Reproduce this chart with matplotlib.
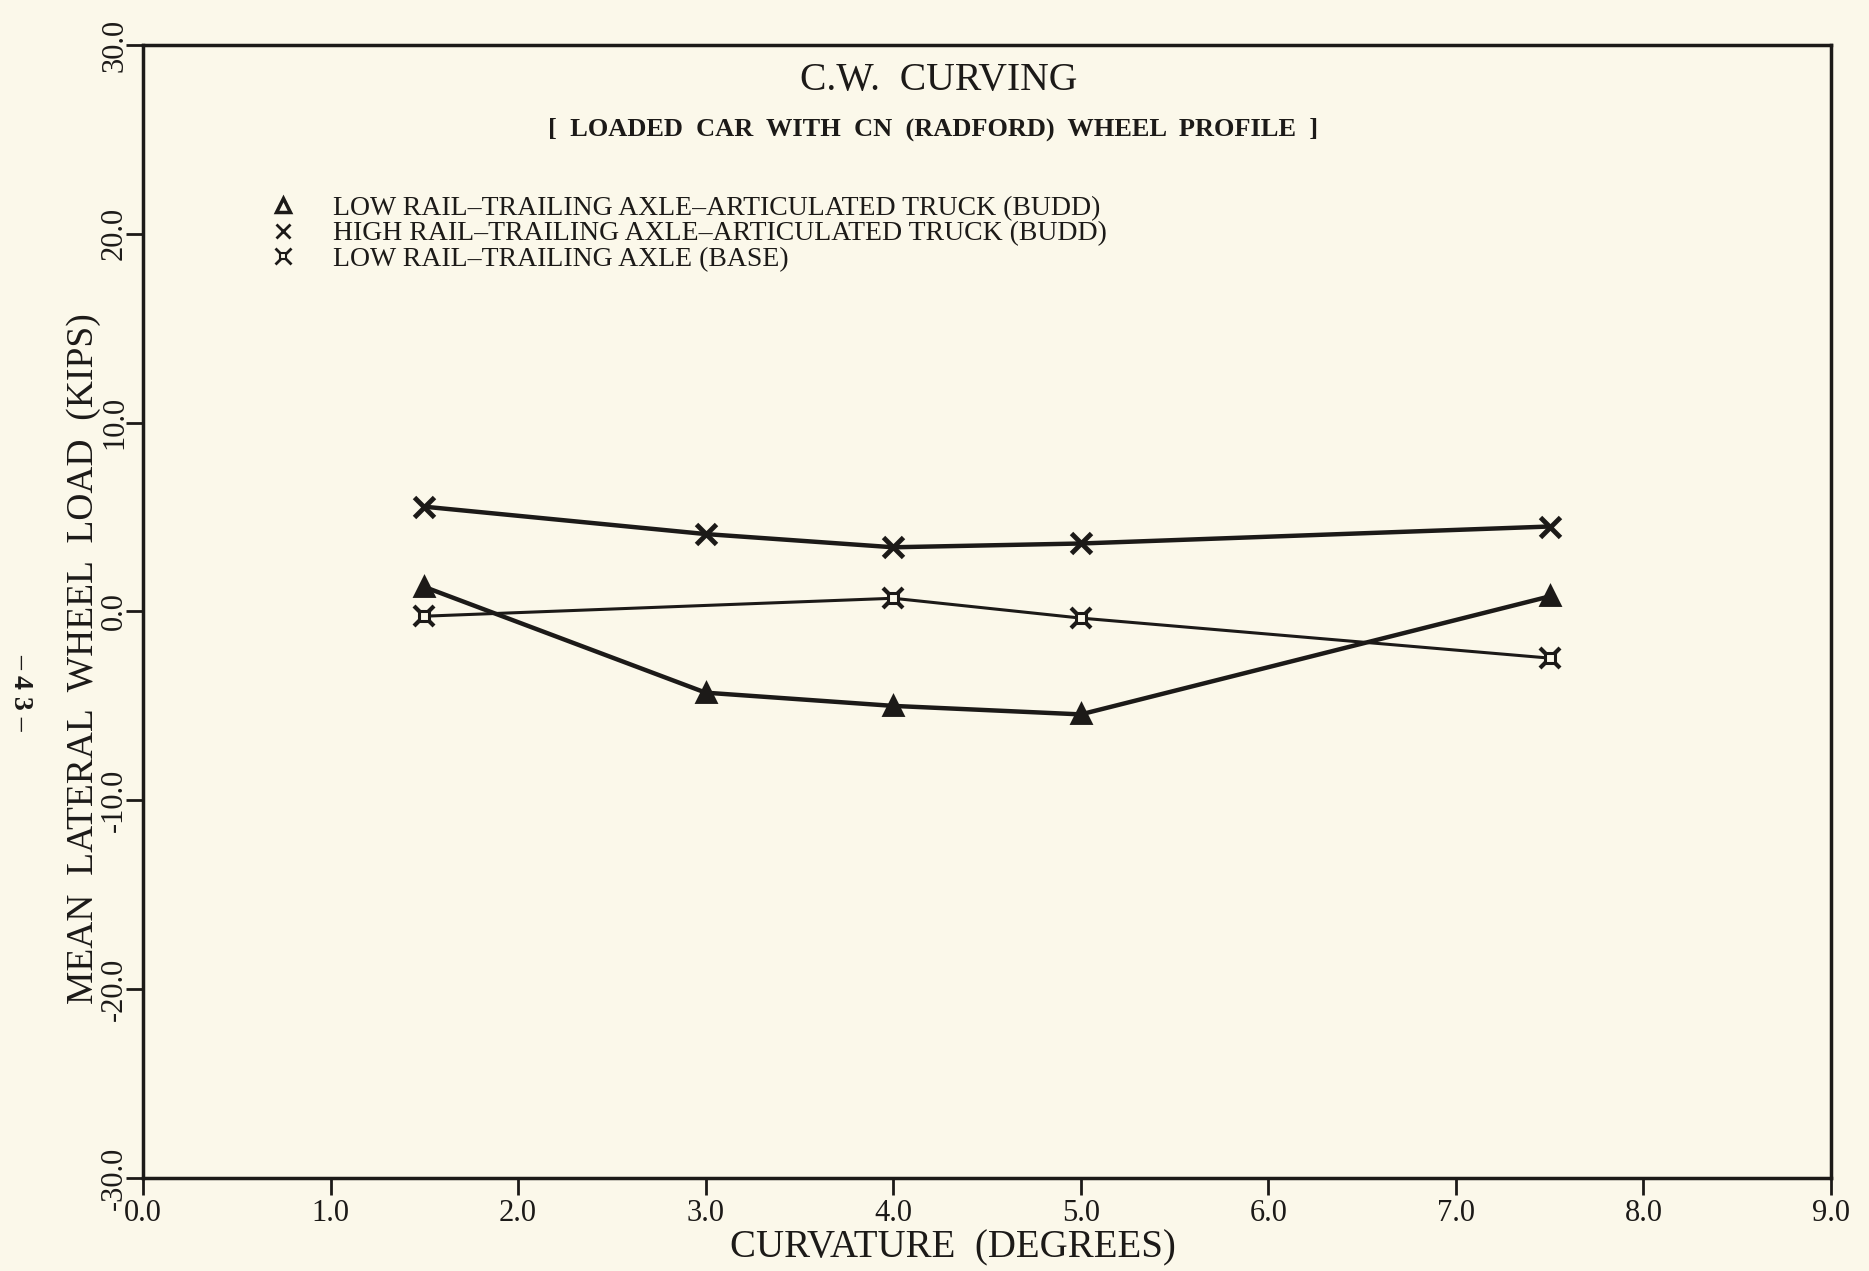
import matplotlib
matplotlib.use("Agg")
import matplotlib.pyplot as plt
from matplotlib.lines import Line2D
from matplotlib.legend_handler import HandlerTuple

curvature = [1.5, 3.0, 4.0, 5.0, 7.5]
low_rail_budd = [1.3, -4.3, -5.0, -5.45, 0.8]
high_rail_budd = [5.55, 4.1, 3.4, 3.6, 4.5]
low_rail_base = [-0.25, 0.7, -0.35, -2.47]
base_curvature = [1.5, 4.0, 5.0, 7.5]

labels = ["LOW RAIL\u2013TRAILING AXLE\u2013ARTICULATED TRUCK (BUDD)",
          "HIGH RAIL\u2013TRAILING AXLE\u2013ARTICULATED TRUCK (BUDD)",
          "LOW RAIL\u2013TRAILING AXLE (BASE)"]
xticks = [0, 1, 2, 3, 4, 5, 6, 7, 8, 9]
yticks = [-30, -20, -10, 0, 10, 20, 30]

bg = "#fbf8ea"
ink = "#1c1a18"
serif = ["Liberation Serif", "DejaVu Serif"]
plt.rcParams["font.family"] = serif

fig = plt.figure(figsize=(18.69, 12.71), dpi=100, facecolor=bg)
ax = fig.add_axes([0.0765, 0.0732, 0.9032, 0.8914], facecolor=bg)

ax.plot(curvature, high_rail_budd, color=ink, lw=3.2, marker="x", ms=15, mew=3.5, zorder=3)
ax.plot(curvature, low_rail_budd, color=ink, lw=3.2, marker="^", ms=11, mew=3.5,
        mfc=ink, mec=ink, zorder=3)
ax.plot(base_curvature, low_rail_base, color=ink, lw=2.2, marker="x", ms=15, mew=3, zorder=3)
ax.plot(base_curvature, low_rail_base, color=ink, lw=0, marker="s", ms=7, mew=2.2,
        mfc=bg, mec=ink, zorder=4)

ax.set_xlim(0, 9)
ax.set_ylim(-30, 30)
ax.set_xticks(xticks)
ax.set_xticklabels([f"{v:.1f}" for v in xticks])
ax.set_yticks(yticks)
ax.set_yticklabels([f"{v:.1f}" for v in yticks], rotation=90, va="center")
ax.tick_params(direction="out", length=12, width=2, colors=ink, labelsize=22)
ax.tick_params(axis="x", pad=3)
ax.tick_params(axis="y", pad=-2)
for s in ax.spines.values():
    s.set_linewidth(2.5)
    s.set_color(ink)

ax.set_xlabel("CURVATURE  (DEGREES)", fontsize=28, color=ink)
ax.xaxis.set_label_coords(0.48, -0.045, transform=ax.transAxes)
ax.xaxis.label.set_va("top")
ax.set_ylabel("MEAN  LATERAL  WHEEL  LOAD  (KIPS)", fontsize=27, color=ink)
ax.yaxis.set_label_coords(-0.035, 0.458, transform=ax.transAxes)
ax.yaxis.label.set_va("center")

ax.text(0.4716, 0.985, "C.W.  CURVING", transform=ax.transAxes, ha="center", va="top",
        fontsize=28.5, color=ink)
ax.text(0.468, 0.9255, "[  LOADED  CAR  WITH  CN  (RADFORD)  WHEEL  PROFILE  ]",
        transform=ax.transAxes, ha="center", va="center", fontsize=19,
        fontweight="bold", color=ink)

h1 = Line2D([], [], lw=0, marker="^", ms=10, mew=2.5, mfc=bg, mec=ink)
h2 = Line2D([], [], lw=0, marker="x", ms=10, mew=2, mec=ink)
h3a = Line2D([], [], lw=0, marker="x", ms=11, mew=2, mec=ink)
h3b = Line2D([], [], lw=0, marker="s", ms=5, mew=1.5, mfc=bg, mec=ink)
leg = ax.legend([h1, h2, (h3a, h3b)], labels,
                handler_map={tuple: HandlerTuple(ndivide=1, pad=0)},
                loc="upper left", bbox_to_anchor=(0.068, 0.877), frameon=False,
                fontsize=20, handlelength=1.0, handletextpad=1.3,
                labelspacing=0.0, borderaxespad=0)
for t in leg.get_texts():
    t.set_color(ink)

fig.text(0.011, 0.455, "\u2013 4 3 \u2013", rotation=270, ha="center", va="center",
         fontsize=20, color=ink, fontweight="bold")

fig.savefig("out.png", dpi=100, facecolor=bg)
